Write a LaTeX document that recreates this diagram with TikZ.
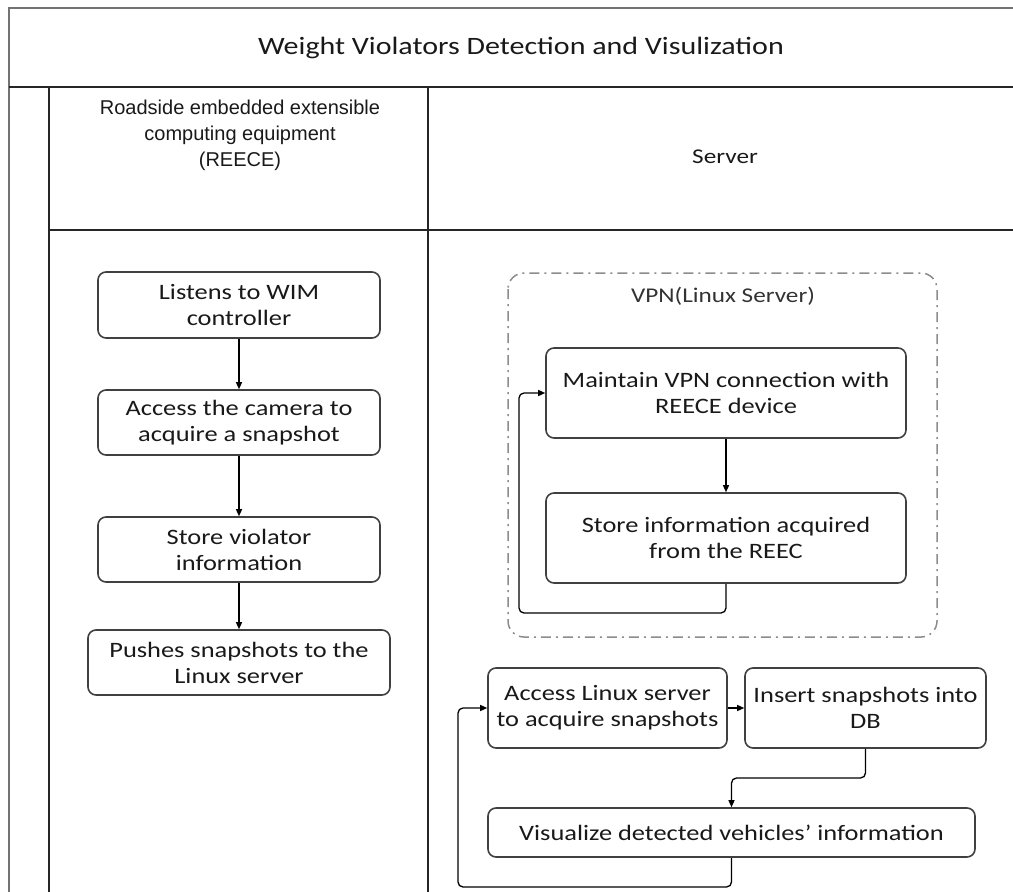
\documentclass[tikz,border=0pt]{standalone}
\usepackage{fontspec}
\setmainfont{Carlito}[FakeStretch=1.2]
\newfontfamily\headfont{Liberation Sans}
\usetikzlibrary{arrows.meta}

\tikzset{
  frameline/.style={line width=2.6pt, draw=black!55},
  laneline/.style={line width=1.8pt, draw=black!85},
  stepbox/.style={draw=black!75, line width=1.6pt, rounded corners=8pt,
    align=center, inner sep=0pt, text=black!90,
    font=\fontsize{22}{26}\selectfont},
  flow/.style={draw=black, line width=1.3pt, rounded corners=5pt,
    -{Triangle[length=7pt,width=6pt]}},
  vpnbox/.style={draw=black!45, line width=1.5pt, rounded corners=16pt,
    dash pattern=on 10pt off 5pt on 2pt off 5pt},
}

\begin{document}
\begin{tikzpicture}[x=1pt,y=-1pt]
\useasboundingbox (0,0) rectangle (1013,892);
\clip (0,0) rectangle (1013,892);

% pool frame and lanes
\draw[frameline] (1040,8) -- (9,8) -- (9,900);
\draw[laneline] (9,87) -- (1040,87);
\draw[laneline] (49,87) -- (49,900);
\draw[laneline] (49,230) -- (1040,230);
\draw[laneline] (428,87) -- (428,900);

% headers
\node[font=\fontsize{25}{30}\selectfont, text=black!90] (title) at (521,48)
  {Weight Violators Detection and Visulization};
\node[font=\headfont\fontsize{20}{26}\selectfont, align=center, text=black!90] (reece) at (240,135)
  {Roadside embedded extensible\\computing equipment\\(REECE)};
\node[font=\fontsize{21}{26}\selectfont, text=black!90] (server) at (725,157) {Server};

% REECE lane
\node[stepbox, minimum width=282pt, minimum height=66pt] (listen) at (239,305)
  {Listens to WIM\\controller};
\node[stepbox, minimum width=282pt, minimum height=65pt] (camera) at (239,422.5)
  {Access the camera to\\acquire a snapshot};
\node[stepbox, minimum width=282pt, minimum height=65pt] (violator) at (239,549.5)
  {Store violator\\information};
\node[stepbox, minimum width=302pt, minimum height=65pt] (push) at (239,662.5)
  {Pushes snapshots to the\\Linux server};

\draw[flow] (listen) -- (camera);
\draw[flow] (camera) -- (violator);
\draw[flow] (violator) -- (push);

% Server lane: VPN group
\draw[vpnbox] (508,273) rectangle (937,637);
\node[font=\fontsize{21}{26}\selectfont, text=black!80] (vpn) at (723,296) {VPN(Linux Server)};
\node[stepbox, minimum width=360pt, minimum height=90pt] (maintain) at (726,393)
  {Maintain VPN connection with\\REECE device};
\node[stepbox, minimum width=360pt, minimum height=90pt] (storeinfo) at (726,538)
  {Store information acquired\\from the REEC};

\draw[flow] (maintain) -- (storeinfo);
\coordinate (loopA) at (519,613);
\draw[flow] (storeinfo.south) |- (loopA) |- (maintain.west);

% Server lane: snapshot handling
\node[stepbox, minimum width=239pt, minimum height=80pt] (access) at (607.5,708)
  {Access Linux server\\to acquire snapshots};
\node[stepbox, minimum width=241pt, minimum height=80pt] (insert) at (865.5,708)
  {Insert snapshots into\\DB};
\node[stepbox, minimum width=487pt, minimum height=49pt] (visual) at (731.5,832.5)
  {Visualize detected vehicles' information};

\draw[flow] (access) -- (insert);
\coordinate (mid) at (731.5,778);
\draw[flow] (insert.south) |- (mid) -- (visual.north);
\coordinate (loopB) at (458,887);
\draw[flow] (visual.south) |- (loopB) |- (access.west);
\end{tikzpicture}
\end{document}
